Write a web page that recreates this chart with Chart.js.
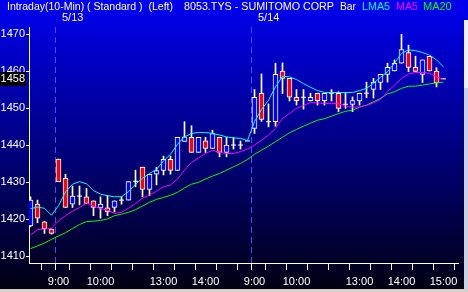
<!DOCTYPE html>
<html><head><meta charset="utf-8">
<script src="https://cdn.jsdelivr.net/npm/chart.js@4.4.1/dist/chart.umd.min.js"></script>
<style>html,body{margin:0;padding:0;background:#000;overflow:hidden}canvas{display:block}</style>
</head><body>
<canvas id="c" width="468" height="292"></canvas>
<script>
// ---- data (10-minute bars) ----
const opens  = [1418.2,1424.1,1419.3,1417.4,1436.3,1431.1,1424.1,1426.3,1426.1,1425.0,
                1423.1,1423.1,1423.2,1425.2,1425.2,1430.3,1434.1,1428.1,1432.2,1433.2,
                1436.2,1433.2,1441.1,1442.2,1438.1,1441.2,1439.2,1442.2,1438.1,1440.1,
                1440.1,1441.2,1444.6,1454.1,1446.4,1446.4,1460.1,1458.1,1453.0,1453.0,
                1452.1,1454.1,1452.1,1454.1,1454.1,1451.1,1451.1,1452.0,1454.1,1455.1,
                1457.0,1459.2,1460.1,1462.2,1465.1,1461.1,1459.2,1464.1,1460.1,1458.0];
const highs  = [1426.1,1425.2,1419.5,1417.4,1436.3,1432.2,1429.0,1429.0,1428.4,1425.0,
                1426.1,1426.4,1425.0,1426.1,1430.2,1433.3,1434.1,1432.2,1434.1,1437.1,
                1437.1,1442.2,1446.4,1445.3,1442.2,1442.2,1444.1,1442.2,1442.2,1442.2,
                1441.2,1441.2,1455.1,1459.3,1451.2,1462.2,1462.3,1458.1,1455.1,1455.1,
                1454.1,1454.1,1454.1,1455.1,1454.5,1454.2,1453.1,1454.1,1457.1,1458.1,
                1459.2,1462.2,1463.1,1470.0,1467.1,1464.1,1463.1,1464.1,1461.0,1458.0];
const lows   = [1418.0,1419.1,1416.2,1416.0,1430.2,1423.2,1423.2,1423.9,1424.3,1421.0,
                1420.3,1421.0,1422.0,1424.1,1425.2,1428.8,1426.1,1426.4,1429.3,1432.0,
                1432.2,1433.2,1441.1,1438.1,1438.1,1438.1,1439.2,1436.9,1436.9,1439.0,
                1439.0,1441.2,1443.2,1446.5,1445.0,1445.2,1454.0,1452.0,1450.9,1449.8,
                1452.0,1450.9,1450.9,1452.0,1449.1,1450.0,1449.1,1450.9,1452.9,1452.8,
                1455.1,1457.1,1460.1,1462.2,1459.9,1459.9,1457.0,1460.1,1455.8,1458.0];
const closes = [1425.2,1420.3,1417.5,1416.2,1430.2,1423.2,1426.3,1426.3,1424.3,1423.2,
                1424.1,1422.0,1425.0,1425.2,1430.2,1430.3,1428.1,1432.2,1433.2,1436.2,
                1433.2,1442.2,1442.3,1438.1,1442.2,1439.2,1443.2,1438.1,1440.1,1440.1,
                1440.1,1441.2,1453.0,1447.0,1446.4,1459.2,1458.1,1453.0,1452.1,1453.0,
                1453.0,1452.1,1454.1,1454.1,1450.0,1451.1,1452.1,1454.1,1454.1,1457.1,
                1459.2,1461.1,1462.2,1465.9,1461.1,1460.0,1463.1,1460.1,1456.9,1458.0];
const lma5   = [1422.9,1423.3,1423.0,1421.1,1423.7,1427.4,1429.5,1430.2,1429.6,1427.8,
                1426.8,1426.4,1426.1,1426.1,1427.5,1429.5,1431.1,1432.4,1433.5,1435.8,
                1437.6,1440.3,1442.3,1443.2,1443.5,1443.5,1443.2,1442.8,1442.3,1442.0,
                1441.9,1441.3,1446.4,1449.7,1452.2,1455.8,1458.7,1458.5,1457.8,1456.7,
                1455.7,1454.8,1454.3,1454.3,1454.3,1454.3,1454.3,1454.8,1455.4,1456.8,
                1458.4,1459.9,1462.2,1464.9,1465.8,1465.6,1465.1,1464.4,1463.1,1461.2];
const ma5    = [1415.8,1417.2,1417.4,1417.6,1419.6,1421.0,1422.2,1423.2,1424.4,1423.6,
                1422.9,1422.5,1421.6,1421.9,1423.0,1424.3,1425.7,1426.6,1427.6,1428.8,
                1429.3,1430.9,1433.3,1435.4,1436.6,1437.8,1438.7,1438.1,1437.8,1437.8,
                1438.3,1439.0,1440.1,1441.4,1442.8,1444.6,1447.3,1448.6,1450.0,1450.8,
                1451.6,1451.5,1451.3,1451.4,1451.2,1450.7,1450.3,1450.4,1450.8,1451.5,
                1452.4,1454.5,1456.3,1458.1,1459.3,1459.7,1459.7,1459.5,1458.5,1457.8];
const ma20   = [1412.1,1412.8,1413.6,1414.6,1415.5,1416.4,1417.5,1418.6,1419.4,1419.5,
                1419.7,1420.1,1421.0,1421.4,1421.9,1422.6,1423.6,1424.6,1425.4,1425.9,
                1426.5,1427.3,1428.5,1429.5,1430.0,1430.9,1431.7,1432.4,1433.3,1434.2,
                1435.1,1436.2,1437.6,1438.7,1439.8,1441.0,1442.2,1443.4,1444.3,1445.2,
                1446.0,1446.8,1447.2,1447.9,1448.6,1449.2,1449.5,1450.3,1450.9,1451.8,
                1452.7,1453.9,1454.5,1455.4,1456.0,1456.0,1456.3,1456.6,1456.9,1457.1];
const tickBars = [0,3,4,7,10,13,16,19,22,25,28,31,32,35,38,41,44,47,50,53,56,59];
const tickText = {4:'9:00',10:'10:00',19:'13:00',25:'14:00',32:'9:00',38:'10:00',47:'13:00',53:'14:00',59:'15:00'};
const yTicks = [1410,1420,1430,1440,1450,1460,1470];
const dayBreaks = [3.5,31.5];
const dayLabels = ['5/13','5/14'];
const lastPrice = 1458;
const titleParts = [
  {t:'Intraday(10-Min) ( Standard )  (Left)', x:7,   w:166, c:'#ffffff'},
  {t:'8053.TYS - SUMITOMO CORP',              x:184, w:150, c:'#ffffff'},
  {t:'Bar',                                    x:340, w:16,  c:'#ffffff'},
  {t:'LMA5',                                   x:362, w:28,  c:'#00ffff'},
  {t:'MA5',                                    x:396, w:22,  c:'#ff00ff'},
  {t:'MA20',                                   x:423, w:29,  c:'#00ff00'}
];

const FONT = '"Liberation Sans", Arial, sans-serif';

// ---- build datasets ----
const wickData = [], bodyData = [], bodyColors = [], dojiData = [];
opens.forEach((o, i) => {
  wickData.push({x:i, y:[lows[i], highs[i]]});
  if (o !== closes[i]) {
    bodyData.push({x:i, y:[o, closes[i]]});
    bodyColors.push(closes[i] > o ? '#0000ff' : '#ff0000');
  } else {
    dojiData.push({x:i, y:o});
  }
});
const pts = arr => arr.map((v, i) => ({x:i, y:v}));

const deco = {
  id:'deco',
  beforeDraw(chart){
    const ctx = chart.ctx, W = chart.width, H = chart.height;
    const g = ctx.createLinearGradient(0,0,0,H);
    g.addColorStop(0,'rgb(0,0,242)');
    g.addColorStop(1,'rgb(0,0,16)');
    ctx.save();
    ctx.fillStyle = g; ctx.fillRect(0,0,W,H);
    ctx.font = '11px ' + FONT;
    ctx.textBaseline = 'alphabetic';
    titleParts.forEach(p => { ctx.fillStyle = p.c; ctx.fillText(p.t, p.x, 10, p.w); });
    ctx.restore();
  },
  beforeDatasetsDraw(chart){
    const ctx = chart.ctx, a = chart.chartArea, xs = chart.scales.x;
    ctx.save();
    ctx.strokeStyle = '#4a4aff'; ctx.lineWidth = 1; ctx.setLineDash([6,4]);
    dayBreaks.forEach((b, k) => {
      const x = Math.round(xs.getPixelForValue(b)) + 0.5;
      ctx.beginPath(); ctx.moveTo(x, a.top); ctx.lineTo(x, a.bottom); ctx.stroke();
    });
    ctx.setLineDash([]);
    ctx.fillStyle = '#ffffff'; ctx.font = '11px ' + FONT; ctx.textBaseline = 'alphabetic';
    dayBreaks.forEach((b, k) => {
      const x = Math.round(xs.getPixelForValue(b));
      ctx.fillText(dayLabels[k], x + 7, 21);
    });
    ctx.restore();
  },
  afterDraw(chart){
    const ctx = chart.ctx, ys = chart.scales.y;
    ctx.save();
    const y = ys.getPixelForValue(lastPrice);
    ctx.fillStyle = '#000000'; ctx.fillRect(0, Math.round(y) - 7, 26, 14);
    ctx.fillStyle = '#ffffff'; ctx.font = '11px ' + FONT;
    ctx.textAlign = 'right'; ctx.textBaseline = 'middle';
    ctx.fillText(String(lastPrice), 25, y + 0.5);
    ctx.fillStyle = '#d4d0c8'; ctx.fillRect(0, 289, 468, 3);
    ctx.fillStyle = '#eef0f4'; ctx.fillRect(464, 20, 4, 68);
    ctx.fillStyle = '#c8d2e4'; ctx.fillRect(464, 88, 4, 201);
    ctx.restore();
  }
};

new Chart(document.getElementById('c'), {
  data: {
    datasets: [
      {type:'line', data:pts(lma5), borderColor:'#00ffff', borderWidth:1, pointRadius:0, tension:0, order:0},
      {type:'line', data:pts(ma5),  borderColor:'#ff00ff', borderWidth:1, pointRadius:0, tension:0, order:0},
      {type:'line', data:pts(ma20), borderColor:'#00ff00', borderWidth:1, pointRadius:0, tension:0, order:0},
      {type:'scatter', data:dojiData, pointStyle:'line', pointRadius:2.5, borderColor:'#ffffff', pointBorderColor:'#ffffff', pointBorderWidth:1, order:1},
      {type:'bar', data:bodyData, backgroundColor:bodyColors, borderColor:'#ffffff', borderWidth:1, borderSkipped:false, barThickness:5, grouped:false, order:2},
      {type:'bar', data:wickData, backgroundColor:'#ffffff', borderWidth:0, barThickness:1, grouped:false, order:3}
    ]
  },
  options: {
    responsive:false, animation:false, devicePixelRatio:1,
    layout:{padding:{top:27, right:10, left:0, bottom:0}},
    plugins:{legend:{display:false}, tooltip:{enabled:false}, title:{display:false}},
    scales:{
      x:{type:'linear', min:-1.5/7, max:427.5/7, offset:false,
         afterBuildTicks:s => { s.ticks = tickBars.map(v => ({value:v})); },
         afterFit:s => { s.height = 29; },
         ticks:{callback:v => tickText[v] || '', color:'#ffffff', font:{size:11, family:FONT},
                autoSkip:false, maxRotation:0, minRotation:0, padding:5},
         grid:{drawOnChartArea:false, drawTicks:true, tickLength:7, color:'#ffffff'},
         border:{display:true, color:'#ffffff', width:1}},
      y:{type:'linear', min:1408.2, max:1472,
         afterBuildTicks:s => { s.ticks = yTicks.map(v => ({value:v})); },
         afterFit:s => { s.width = 29; },
         ticks:{callback:v => String(v), color:'#ffffff', font:{size:11, family:FONT}, padding:1},
         grid:{drawOnChartArea:false, drawTicks:true, tickLength:3, color:'#ffffff'},
         border:{display:true, color:'#ffffff', width:1, dash:[1,2.7]}}
    }
  },
  plugins:[deco]
});
</script>
</body></html>
